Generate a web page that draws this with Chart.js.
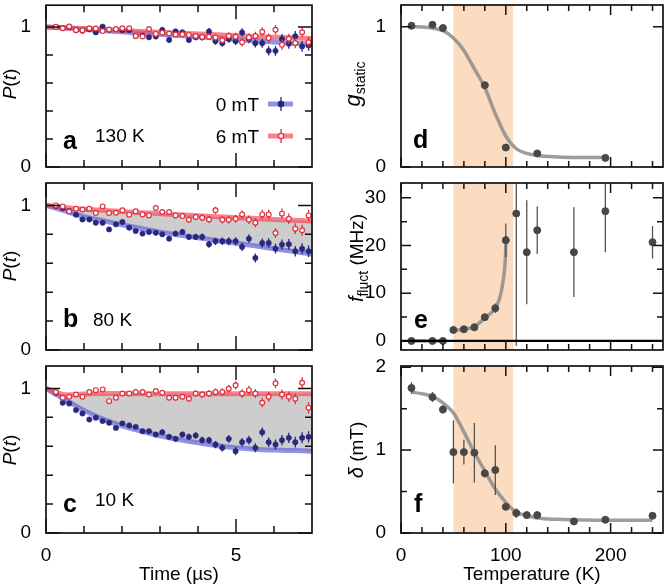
<!DOCTYPE html>
<html><head><meta charset="utf-8">
<script src="https://cdn.jsdelivr.net/npm/chart.js@4.4.1/dist/chart.umd.min.js"></script>
<style>
html,body{margin:0;padding:0;background:#fff}
#wrap{position:relative;width:668px;height:587px;overflow:hidden}
#wrap canvas{position:absolute;left:0;top:0}
</style></head><body>
<div id="wrap">
<canvas id="pa" width="668" height="587"></canvas>
<canvas id="pb" width="668" height="587"></canvas>
<canvas id="pc" width="668" height="587"></canvas>
<canvas id="pd" width="668" height="587"></canvas>
<canvas id="pe" width="668" height="587"></canvas>
<canvas id="pf" width="668" height="587"></canvas>
</div>
<script>
// ---------- data: muon time spectra (left) ----------
const TIME = [0.26,0.44,0.61,0.79,0.96,1.14,1.31,1.49,1.66,1.84,2.01,2.19,2.36,2.54,2.71,2.89,3.06,3.24,3.41,3.59,3.76,3.94,4.11,4.29,4.46,4.64,4.81,4.99,5.16,5.34,5.51,5.69,5.86,6.04,6.21,6.39,6.56,6.74,6.91];
const A_BLUE = [1.0,0.991,1.0,0.977,0.972,0.984,0.961,1.002,0.979,0.984,0.977,0.977,0.935,0.938,0.926,0.931,0.979,0.907,0.968,0.961,0.907,0.926,0.926,0.968,0.898,0.884,0.914,0.898,0.961,0.914,0.884,0.884,0.829,0.829,0.914,0.880,0.933,0.861,0.868];
const A_RED  = [1.0,0.99,1.003,0.977,0.975,0.99,0.988,0.97,0.982,0.984,0.99,0.99,0.935,0.932,0.985,0.95,0.958,0.953,0.945,0.947,0.943,0.935,0.928,0.93,0.925,0.905,0.935,0.93,0.89,0.925,0.935,0.965,0.92,0.98,0.872,0.915,0.885,0.962,0.89];
const B_BLUE = [0.995,0.98,0.962,0.936,0.903,0.903,0.880,0.880,0.834,0.869,0.885,0.846,0.823,0.805,0.816,0.811,0.800,0.770,0.805,0.816,0.782,0.782,0.782,0.731,0.752,0.752,0.752,0.752,0.713,0.770,0.637,0.740,0.740,0.701,0.729,0.731,0.683,0.701,0.683];
const B_RED  = [1.0,0.993,0.958,0.977,0.972,0.977,0.947,0.993,0.947,0.949,0.966,0.936,0.959,0.938,0.931,0.982,0.954,0.954,0.931,0.926,0.901,0.920,0.915,0.903,0.966,0.901,0.901,0.908,0.938,0.901,0.880,0.938,0.938,0.809,0.943,0.908,0.839,0.828,0.931];
const C_BLUE = [0.97,0.901,0.896,0.850,0.827,0.785,0.797,0.774,0.762,0.727,0.758,0.744,0.734,0.704,0.704,0.681,0.697,0.665,0.651,0.681,0.665,0.674,0.642,0.642,0.612,0.589,0.651,0.566,0.628,0.642,0.589,0.697,0.628,0.612,0.642,0.658,0.628,0.658,0.665];
const C_RED  = [0.975,0.935,0.942,0.958,0.942,0.975,0.988,0.993,0.912,0.935,0.965,0.965,0.975,0.975,0.958,0.982,0.970,0.935,0.935,0.942,0.928,0.965,0.958,0.965,0.975,0.975,0.998,1.021,0.965,0.988,0.965,0.901,0.942,1.035,0.958,0.942,0.928,1.039,0.866];
const ERR_P  = [0.006,0.007,0.008,0.008,0.009,0.010,0.010,0.011,0.012,0.012,0.013,0.014,0.014,0.015,0.016,0.017,0.017,0.018,0.019,0.020,0.021,0.022,0.023,0.024,0.025,0.026,0.027,0.028,0.029,0.030,0.031,0.032,0.033,0.034,0.035,0.036,0.037,0.038,0.039];
// fitted curves
const FIT_T      = [0,0.25,0.5,0.75,1,1.5,2,2.5,3,3.5,4,4.5,5,5.5,6,6.5,7];
const A_BLUE_FIT = [1.0,0.996,0.992,0.988,0.983,0.974,0.965,0.956,0.947,0.938,0.929,0.919,0.910,0.901,0.892,0.883,0.875];
const A_RED_FIT  = [1.0,0.997,0.994,0.991,0.988,0.981,0.975,0.968,0.962,0.956,0.950,0.944,0.938,0.932,0.927,0.922,0.917];
const B_BLUE_FIT = [1.0,0.982,0.962,0.940,0.922,0.894,0.866,0.840,0.815,0.795,0.776,0.757,0.738,0.720,0.700,0.682,0.664];
const B_RED_FIT  = [1.0,0.992,0.985,0.979,0.974,0.966,0.958,0.950,0.943,0.936,0.929,0.922,0.915,0.909,0.903,0.897,0.892];
const C_BLUE_FIT = [1.0,0.960,0.922,0.884,0.848,0.788,0.741,0.705,0.673,0.647,0.624,0.604,0.590,0.580,0.574,0.570,0.566];
const C_RED_FIT  = [1.0,0.972,0.957,0.957,0.961,0.964,0.964,0.963,0.963,0.963,0.963,0.963,0.963,0.963,0.963,0.963,0.963];

// ---------- data: temperature dependence (right) ----------
const D_T = [10,30,40,80,100,130,195];
const D_G = [1.007,1.014,0.991,0.583,0.139,0.097,0.065];
const D_FIT_T = [10,20,30,40,50,60,70,80,90,100,110,120,130,150,175,195];
const D_FIT   = [1.0,0.998,0.99,0.972,0.92,0.83,0.70,0.565,0.38,0.22,0.13,0.097,0.082,0.072,0.068,0.067];

const E_T   = [10,30,40,50,60,70,80,90,100,110,120,130,165,195,240];
const E_F   = [0,0,0,2.3,2.45,2.87,4.98,6.87,21.1,26.7,18.6,23.2,18.6,27.2,20.7];
const E_ERR = [0,0,0,0.3,0.3,0.8,0.6,1.0,3.5,27.7,10.9,5.0,9.4,8.6,3.4];
const E_FIT_T = [10,40,45,50,60,70,80,85,90,95,98,99.5,100.3];
const E_FIT   = [0,0,null,2.2,2.45,3.0,4.8,5.7,6.9,9.6,13.5,17,22];

const F_T   = [10,30,40,50,60,70,80,90,100,110,120,130,165,195,240];
const F_D   = [1.75,1.64,1.49,0.976,0.976,0.968,0.72,0.76,0.316,0.24,0.216,0.216,0.14,0.16,0.208];
const F_ERR = [0.07,0.06,0.05,0.38,0.15,0.36,0.05,0.3,0.04,0.06,0.03,0.03,0.03,0.03,0.03];
const F_FIT_T = [10,20,30,40,50,60,70,80,90,100,110,120,130,150,165,195,240];
const F_FIT   = [1.70,1.68,1.65,1.57,1.45,1.22,0.97,0.75,0.53,0.37,0.25,0.21,0.18,0.165,0.16,0.155,0.155];

const BAND = [50,107];

// ---------- styling ----------
const FAM = '"Liberation Sans", Arial, Helvetica, sans-serif';
Chart.defaults.font.family = FAM;
Chart.defaults.font.size = 19;
Chart.defaults.color = '#000';
const NAVY = '#28287e', RED = '#e0303c';
const BLUE_LINE = 'rgba(96,96,214,0.68)', RED_LINE = 'rgba(246,70,84,0.68)';
const GREY_PT = '#474747', GREY_LINE = 'rgba(140,140,140,0.85)';

const pts = (xs, ys) => xs.map((x,i)=>({x, y: ys[i]}));

const deco = {
  id: 'deco',
  beforeDatasetsDraw(chart, args, o) {
    const {ctx, chartArea:a, scales:{x}} = chart;
    if (o.band) {
      const x1 = x.getPixelForValue(o.band[0]), x2 = x.getPixelForValue(o.band[1]);
      ctx.save(); ctx.fillStyle = '#fcdcc0';
      ctx.fillRect(x1, a.top, x2-x1, a.bottom-a.top); ctx.restore();
    }
  },
  beforeDatasetDraw(chart, args) {
    const ds = chart.data.datasets[args.index];
    if (!ds.errorBars) return;
    const {ctx, chartArea:a, scales:{x,y}} = chart;
    ctx.save();
    ctx.beginPath(); ctx.rect(a.left, a.top, a.right-a.left, a.bottom-a.top); ctx.clip();
    ctx.strokeStyle = ds.errColor; ctx.lineWidth = ds.errWidth || 1.3;
    ctx.beginPath();
    ds.data.forEach((p,i)=>{
      const e = ds.errorBars[i]; if (!e) return;
      const px = x.getPixelForValue(p.x);
      ctx.moveTo(px, y.getPixelForValue(p.y+e)); ctx.lineTo(px, y.getPixelForValue(p.y-e));
    });
    ctx.stroke(); ctx.restore();
  },
  afterDatasetsDraw(chart, args, o) {
    const {ctx, chartArea:a, scales:{x,y}} = chart;
    ctx.save();
    if (o.zeroLine) {
      const py = y.getPixelForValue(0);
      ctx.strokeStyle = '#000'; ctx.lineWidth = 2.2;
      ctx.beginPath(); ctx.moveTo(a.left, py); ctx.lineTo(a.right, py); ctx.stroke();
    }
    ctx.strokeStyle = '#111'; ctx.lineWidth = 1.5;
    ctx.beginPath();
    const xt = (vals, len) => vals.forEach(v=>{ const p = x.getPixelForValue(v);
      ctx.moveTo(p, a.bottom); ctx.lineTo(p, a.bottom-len); ctx.moveTo(p, a.top); ctx.lineTo(p, a.top+len); });
    const yt = (vals, len) => vals.forEach(v=>{ const p = y.getPixelForValue(v);
      ctx.moveTo(a.left, p); ctx.lineTo(a.left+len, p); ctx.moveTo(a.right, p); ctx.lineTo(a.right-len, p); });
    xt(o.xMajor, o.maj); xt(o.xMinor, o.min); yt(o.yMajor, o.maj); yt(o.yMinor, o.min);
    ctx.stroke();
    ctx.lineWidth = 1.7;
    ctx.strokeRect(a.left, a.top, a.right-a.left, a.bottom-a.top);
    // labels inside the panel
    ctx.fillStyle = '#000'; ctx.textBaseline = 'alphabetic';
    (o.texts||[]).forEach(t=>{ ctx.font = t.font; ctx.textAlign = t.align||'left'; ctx.fillText(t.text, t.x, t.y); });
    // legend
    (o.legend||[]).forEach(l=>{
      ctx.font = '19px ' + FAM; ctx.textAlign = 'right'; ctx.fillStyle = '#000';
      ctx.fillText(l.text, l.x - 9, l.y + 7);
      ctx.strokeStyle = l.line; ctx.lineWidth = 5;
      ctx.beginPath(); ctx.moveTo(l.x, l.y); ctx.lineTo(l.x+25, l.y); ctx.stroke();
      ctx.strokeStyle = l.color; ctx.lineWidth = 1.3;
      ctx.beginPath(); ctx.moveTo(l.x+13, l.y-7); ctx.lineTo(l.x+13, l.y+7); ctx.stroke();
      ctx.beginPath(); ctx.arc(l.x+13, l.y, 2.6, 0, Math.PI*2);
      ctx.fillStyle = l.fill; ctx.fill(); ctx.stroke();
    });
    // rotated y-axis title
    if (o.ytitle) {
      const t = o.ytitle;
      ctx.translate(t.x, t.y); ctx.rotate(-Math.PI/2);
      let w = 0;
      t.parts.forEach(p=>{ ctx.font = p.font; w += ctx.measureText(p.text).width; });
      let cx = -w/2; ctx.textAlign = 'left'; ctx.fillStyle = '#000';
      t.parts.forEach(p=>{ ctx.font = p.font; ctx.fillText(p.text, cx, p.dy||0); cx += ctx.measureText(p.text).width; });
    }
    ctx.restore();
  }
};
Chart.register(deco);

const noPad = s => { s.paddingTop = 0; s.paddingBottom = 0; s.paddingLeft = 0; s.paddingRight = 0; };
function xAxis(min, max, labels, title) {
  return {
    type:'linear', min, max, grid:{display:false}, border:{display:false},
    ticks:{display:!!labels, padding:3, autoSkip:false, maxRotation:0, callback:v=>String(v)},
    afterBuildTicks: s => { if (labels) s.ticks = labels.map(v=>({value:v})); },
    afterFit: s => { s.height = labels ? 54 : 0; noPad(s); },
    title: title ? {display:true, text:title, padding:{top:0, bottom:1}} : {display:false}
  };
}
function yAxis(min, max, labels) {
  return {
    type:'linear', min, max, grid:{display:false}, border:{display:false},
    ticks:{padding:7, autoSkip:false, callback:v=>String(v)},
    afterBuildTicks: s => { s.ticks = labels.map(v=>({value:v})); },
    afterFit: s => { s.width = 40; noPad(s); }
  };
}
function make(id, datasets, scales, padding, deco) {
  return new Chart(document.getElementById(id), {
    type:'line',
    data:{datasets},
    options:{
      responsive:false, animation:false, events:[],
      layout:{padding},
      scales,
      plugins:{legend:{display:false}, tooltip:{enabled:false}, filler:{drawTime:'beforeDatasetsDraw'}, deco}
    }
  });
}
function leftSets(blue, red, blueFit, redFit, filled) {
  return [
    {data:pts(TIME, red), showLine:false, pointRadius:2.4, pointBorderWidth:1.2, pointBackgroundColor:'#fff', pointBorderColor:RED, errorBars:ERR_P, errColor:RED, order:0},
    {data:pts(TIME, blue), showLine:false, pointRadius:2.7, pointBorderWidth:0.5, pointBackgroundColor:NAVY, pointBorderColor:NAVY, errorBars:ERR_P, errColor:NAVY, order:1},
    {data:pts(FIT_T, redFit), pointRadius:0, borderWidth:5, borderColor:RED_LINE, cubicInterpolationMode:'monotone', clip:0, order:2,
      fill: filled ? '+1' : false, backgroundColor:'#cdcdcd'},
    {data:pts(FIT_T, blueFit), pointRadius:0, borderWidth:5, borderColor:BLUE_LINE, cubicInterpolationMode:'monotone', clip:0, order:3, fill:false}
  ];
}
const LT = {xMajor:[0,5], xMinor:[1,2,3,4,6], yMajor:[0,1], yMinor:[0.2,0.4,0.6,0.8], maj:14, min:7};
const RT = {xMajor:[0,100,200], xMinor:[20,40,60,80,120,140,160,180,220,240], maj:10, min:6};
const BOLD = 'bold 25px ' + FAM, REG = '19px ' + FAM;
const P_TITLE = y => ({x:16, y, parts:[{text:'P', font:'italic 19px '+FAM},{text:'(', font:REG},{text:'t', font:'italic 19px '+FAM},{text:')', font:REG}]});

// panel a
make('pa', leftSets(A_BLUE, A_RED, A_BLUE_FIT, A_RED_FIT, false),
  {x:xAxis(0,7,null,null), y:yAxis(0,1.155,[0,1])}, {left:6, right:356, top:1, bottom:420},
  Object.assign({}, LT, {texts:[{text:'a', x:63, y:149, font:BOLD},{text:'130 K', x:95, y:142, font:REG}],
    legend:[{text:'0 mT', x:268, y:104, line:BLUE_LINE, color:NAVY, fill:NAVY},{text:'6 mT', x:268, y:136, line:RED_LINE, color:RED, fill:'#fff'}],
    ytitle:P_TITLE(84)}));
// panel b
make('pb', leftSets(B_BLUE, B_RED, B_BLUE_FIT, B_RED_FIT, true),
  {x:xAxis(0,7,null,null), y:yAxis(0,1.155,[0,1])}, {left:6, right:356, top:183, bottom:237},
  Object.assign({}, LT, {texts:[{text:'b', x:63, y:327, font:BOLD},{text:'80 K', x:93, y:326, font:REG}], ytitle:P_TITLE(266)}));
// panel c
make('pc', leftSets(C_BLUE, C_RED, C_BLUE_FIT, C_RED_FIT, true),
  {x:xAxis(0,7,[0,5],'Time (µs)'), y:yAxis(0,1.155,[0,1])}, {left:6, right:356, top:366, bottom:0},
  Object.assign({}, LT, {texts:[{text:'c', x:63, y:512, font:BOLD},{text:'10 K', x:95, y:506, font:REG}], ytitle:P_TITLE(450)}));

// panel d
make('pd', [
    {data:pts(D_T, D_G), showLine:false, pointRadius:3.5, pointBackgroundColor:GREY_PT, pointBorderColor:GREY_PT, order:0},
    {data:pts(D_FIT_T, D_FIT), pointRadius:0, borderWidth:3.5, borderColor:GREY_LINE, cubicInterpolationMode:'monotone', order:1}
  ],
  {x:xAxis(0,250,null,null), y:yAxis(0,1.155,[0,1])}, {left:361, right:2, top:1, bottom:420},
  Object.assign({}, RT, {yMajor:[0,1], yMinor:[], band:BAND, texts:[{text:'d', x:413, y:148, font:BOLD}],
    ytitle:{x:360, y:84, parts:[{text:'g', font:'italic 22px '+FAM},{text:'static', font:'14px '+FAM, dy:5}]}}));
// panel e
make('pe', [
    {data:pts(E_T, E_F), showLine:false, pointRadius:3.5, pointBackgroundColor:GREY_PT, pointBorderColor:GREY_PT, errorBars:E_ERR, errColor:'#555', order:0},
    {data:pts(E_FIT_T, E_FIT), pointRadius:0, borderWidth:3.5, borderColor:GREY_LINE, cubicInterpolationMode:'monotone', order:1}
  ],
  {x:xAxis(0,250,null,null), y:yAxis(-1.9,33.1,[0,10,20,30])}, {left:361, right:2, top:183, bottom:237},
  Object.assign({}, RT, {yMajor:[0,10,20,30], yMinor:[5,15,25], band:BAND, zeroLine:true, texts:[{text:'e', x:414, y:328, font:BOLD}],
    ytitle:{x:363, y:258, parts:[{text:'f', font:'italic 20px '+FAM},{text:'fluct', font:'14px '+FAM, dy:5},{text:' (MHz)', font:REG}]}}));
// panel f
make('pf', [
    {data:pts(F_T, F_D), showLine:false, pointRadius:3.5, pointBackgroundColor:GREY_PT, pointBorderColor:GREY_PT, errorBars:F_ERR, errColor:'#555', order:0},
    {data:pts(F_FIT_T, F_FIT), pointRadius:0, borderWidth:3.5, borderColor:GREY_LINE, cubicInterpolationMode:'monotone', order:1}
  ],
  {x:xAxis(0,250,[0,100,200],'Temperature (K)'), y:yAxis(0,2.015,[0,1,2])}, {left:361, right:2, top:366, bottom:0},
  Object.assign({}, RT, {yMajor:[0,1,2], yMinor:[0.5,1.5], band:BAND, texts:[{text:'f', x:414, y:512, font:BOLD}],
    ytitle:{x:363, y:450, parts:[{text:'δ', font:'italic 20px '+FAM},{text:' (mT)', font:REG}]}}));
</script>
</body></html>
